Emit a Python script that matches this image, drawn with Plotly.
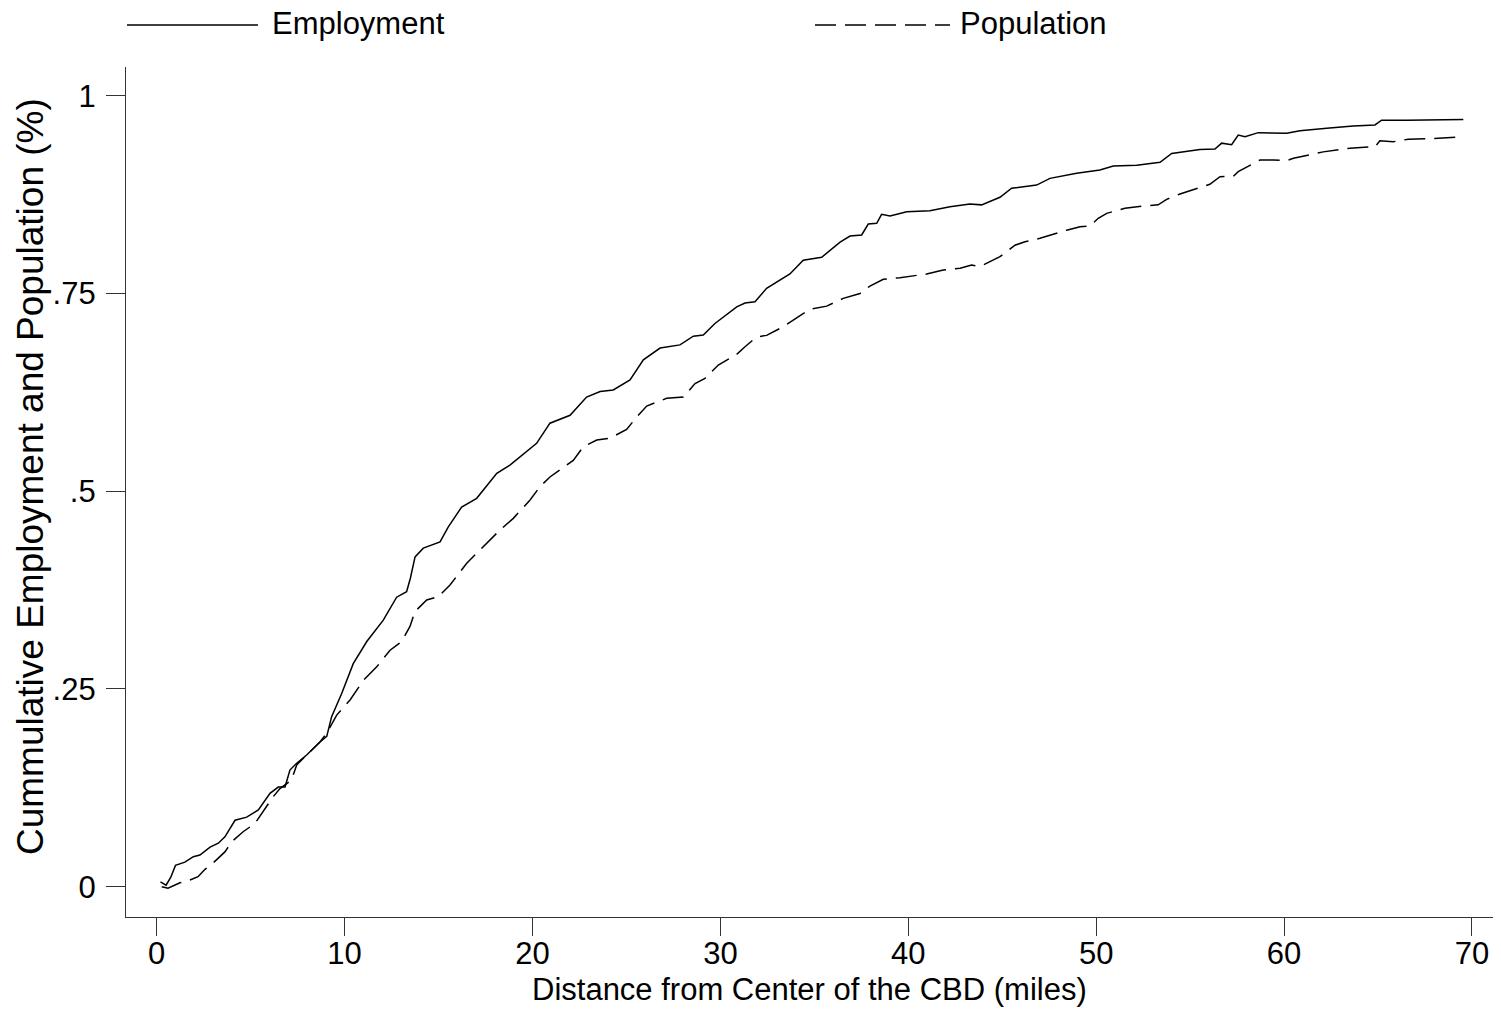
import plotly.graph_objects as go

# ---- data ----
emp_x = [0.2, 0.5, 0.75, 1.0, 1.5, 1.95, 2.3, 2.84, 3.28, 3.63, 4.17, 4.79, 5.41, 6.03, 6.47, 6.83,
         7.09, 7.45, 7.98, 8.69, 9.05, 9.31, 9.85, 10.46, 11.18, 12.06, 12.77, 13.3, 13.5, 13.75,
         14.19, 15.08, 15.52, 16.23, 17.03, 18.1, 18.8, 20.22, 20.93, 22.0, 22.88, 23.6, 24.3,
         25.19, 25.9, 26.79, 27.85, 28.56, 29.09, 29.71, 30.87, 31.31, 31.84, 32.46, 33.7, 34.41,
         35.39, 36.37, 36.9, 37.52, 37.87, 38.32, 38.58, 39.03, 39.92, 41.15, 42.22, 43.28, 43.9,
         44.88, 45.5, 46.83, 47.54, 48.96, 50.2, 50.91, 52.16, 53.4, 54.02, 55.52, 56.32, 56.68,
         57.21, 57.56, 57.92, 58.63, 60.14, 60.85, 62.27, 63.68, 64.84, 65.19, 66.52, 69.54]
emp_y = [0.006, 0.002, 0.012, 0.027, 0.031, 0.038, 0.040, 0.050, 0.055, 0.063, 0.084, 0.088, 0.097,
         0.118, 0.126, 0.126, 0.1475, 0.156, 0.1665, 0.183, 0.19, 0.215, 0.2445, 0.282, 0.31, 0.337,
         0.366, 0.373, 0.39, 0.417, 0.428, 0.436, 0.455, 0.48, 0.491, 0.5226, 0.533, 0.5605, 0.586,
         0.596, 0.619, 0.626, 0.628, 0.6406, 0.666, 0.681, 0.685, 0.696, 0.6975, 0.712, 0.733, 0.738,
         0.7396, 0.7565, 0.7746, 0.792, 0.7957, 0.815, 0.8226, 0.824, 0.8378, 0.8387, 0.850, 0.848,
         0.8534, 0.8547, 0.8597, 0.863, 0.862, 0.8716, 0.883, 0.887, 0.8955, 0.902, 0.906, 0.911,
         0.912, 0.9158, 0.927, 0.932, 0.9326, 0.94, 0.938, 0.9503, 0.948, 0.9533, 0.9525, 0.9558,
         0.9588, 0.9617, 0.963, 0.969, 0.969, 0.970]

pop_x = [0.27, 0.6, 1.24, 1.77, 2.2, 2.57, 3.0, 3.63, 4.0, 4.6, 5.23, 5.76, 6.2, 6.56, 7.18, 7.45,
         7.98, 8.69, 9.05, 9.58, 10.29, 11.0, 11.71, 12.42, 13.04, 13.48, 13.75, 14.37, 14.99, 15.61,
         16.5, 17.2, 18.27, 18.98, 19.87, 20.4, 20.93, 22.17, 22.7, 23.42, 24.12, 25.01, 25.55, 26.08,
         27.14, 28.03, 28.65, 29.18, 29.89, 30.87, 31.31, 31.93, 32.46, 33.35, 34.06, 34.77, 35.66,
         36.54, 37.43, 37.96, 38.67, 39.56, 40.98, 41.86, 42.76, 43.37, 43.82, 44.35, 44.88, 45.68,
         46.21, 47.01, 47.72, 48.43, 49.14, 49.67, 50.11, 50.56, 51.53, 52.5, 53.3, 53.75, 54.46,
         55.35, 56.05, 56.59, 57.3, 57.56, 58.0, 58.72, 59.43, 60.14, 60.5, 61.38, 62.09, 62.97,
         63.68, 64.84, 65.1, 65.81, 66.61, 67.94, 69.54]
pop_y = [0.0, -0.002, 0.005, 0.0085, 0.0126, 0.022, 0.030, 0.044, 0.057, 0.0695, 0.080, 0.099,
         0.1138, 0.124, 0.135, 0.154, 0.1665, 0.183, 0.194, 0.217, 0.236, 0.261, 0.278, 0.299, 0.31,
         0.329, 0.348, 0.3625, 0.3666, 0.3814, 0.409, 0.4257, 0.451, 0.4657, 0.489, 0.5057, 0.518,
         0.539, 0.556, 0.5647, 0.567, 0.578, 0.594, 0.6077, 0.6174, 0.619, 0.636, 0.6427, 0.6595,
         0.673, 0.6827, 0.695, 0.697, 0.708, 0.7186, 0.730, 0.734, 0.7438, 0.750, 0.7594, 0.768,
         0.770, 0.7746, 0.7796, 0.7818, 0.786, 0.784, 0.790, 0.7965, 0.811, 0.8154, 0.8197, 0.825,
         0.830, 0.8344, 0.8353, 0.845, 0.8513, 0.8577, 0.8606, 0.862, 0.869, 0.8757, 0.883, 0.888,
         0.8976, 0.898, 0.904, 0.9094, 0.9187, 0.9187, 0.918, 0.921, 0.925, 0.929, 0.932, 0.934,
         0.9355, 0.943, 0.9418, 0.945, 0.946, 0.948]

x_ticks = [0, 10, 20, 30, 40, 50, 60, 70]
y_ticks = [0, 0.25, 0.5, 0.75, 1]
y_tick_labels = ["0", ".25", ".5", ".75", "1"]

series_names = ["Employment", "Population"]
x_title = "Distance from Center of the CBD (miles)"
y_title = "Cummulative Employment and Population (%)"

FONT = "Liberation Sans, Arial, sans-serif"
DASH = "21px,9px"

fig = go.Figure()
fig.add_trace(go.Scatter(x=emp_x, y=emp_y, mode="lines", name=series_names[0],
                         line=dict(color="black", width=1.5)))
fig.add_trace(go.Scatter(x=pop_x, y=pop_y, mode="lines", name=series_names[1],
                         line=dict(color="black", width=1.5, dash=DASH)))

L, R, T, B = 126, 8, 67, 93
W, H = 1501, 1010
pw = W - L - R
ph = H - T - B

def px_x(p):
    return (p - L) / pw

def px_y(p):
    return (H - B - p) / ph

# manual legend (long line samples like the original)
fig.add_shape(type="line", xref="paper", yref="paper", x0=px_x(127), x1=px_x(258),
              y0=px_y(25), y1=px_y(25), line=dict(color="black", width=1.5))
fig.add_shape(type="line", xref="paper", yref="paper", x0=px_x(815), x1=px_x(950),
              y0=px_y(25), y1=px_y(25), line=dict(color="black", width=1.5, dash=DASH))
fig.add_annotation(xref="paper", yref="paper", x=px_x(270), y=px_y(23), text=series_names[0],
                   showarrow=False, xanchor="left", yanchor="middle",
                   font=dict(family=FONT, size=31, color="black"))
fig.add_annotation(xref="paper", yref="paper", x=px_x(958), y=px_y(23), text=series_names[1],
                   showarrow=False, xanchor="left", yanchor="middle",
                   font=dict(family=FONT, size=31, color="black"))
# y-axis title
fig.add_annotation(xref="paper", yref="paper", x=px_x(31), y=px_y(477), text=y_title,
                   showarrow=False, xanchor="center", yanchor="middle", textangle=-90,
                   font=dict(family=FONT, size=37, color="black"))
# x-axis title
fig.add_annotation(xref="paper", yref="paper", x=px_x(809), y=px_y(989), text=x_title,
                   showarrow=False, xanchor="center", yanchor="middle",
                   font=dict(family=FONT, size=31, color="black"))

fig.update_layout(
    width=W, height=H,
    margin=dict(l=L, r=R, t=T, b=B, pad=0),
    paper_bgcolor="white", plot_bgcolor="white",
    showlegend=False,
    font=dict(family=FONT, size=31, color="black"),
)
fig.update_xaxes(range=[-1.634, 71.12], tickvals=x_ticks, ticks="outside", ticklen=18,
                 tickwidth=1.3, tickcolor="#333", showline=True, linecolor="#333", linewidth=1.3,
                 showgrid=False, zeroline=False, tickfont=dict(size=31), ticklabelstandoff=-9)
fig.update_yaxes(range=[-0.0383, 1.0363], tickvals=y_ticks, ticktext=y_tick_labels,
                 ticks="outside", ticklen=19, tickwidth=1.3, tickcolor="#333", showline=True,
                 linecolor="#333", linewidth=1.3, showgrid=False, zeroline=False,
                 tickfont=dict(size=31), ticklabelstandoff=4)

fig.write_html("out.html", config={"displayModeBar": False},
               post_script="document.body.style.margin='0px';document.body.style.overflow='hidden';")
